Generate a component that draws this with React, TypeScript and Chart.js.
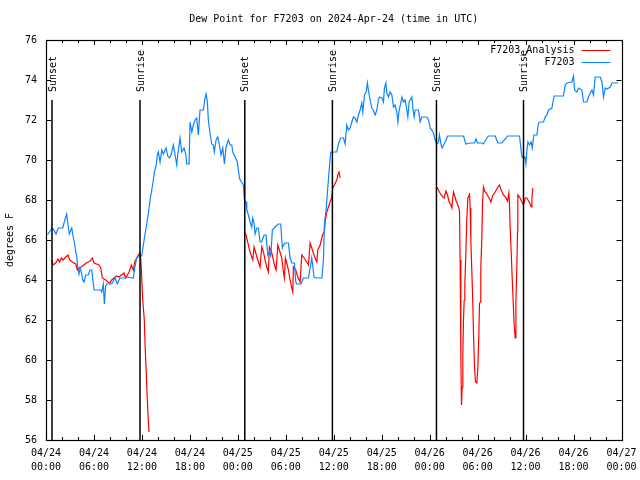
import React, { useEffect, useRef } from 'react';
import { Chart, registerables } from 'chart.js';

Chart.register(...registerables);

const FONT = '"DejaVu Sans Mono", "Liberation Mono", monospace';

const TITLE = 'Dew Point for F7203 on 2024-Apr-24 (time in UTC)';
const Y_LABEL = 'degrees F';
const SERIES_NAMES = ['F7203_Analysis', 'F7203'];
const SERIES_COLORS = ['#ff0000', '#0a84ff'];

// x axis: hours since 2024-04-24 00:00 UTC
const X_TICK_HOURS = [0, 6, 12, 18, 24, 30, 36, 42, 48, 54, 60, 66, 72];
const X_TICK_DATES = ['04/24', '04/24', '04/24', '04/24', '04/25', '04/25', '04/25', '04/25', '04/26', '04/26', '04/26', '04/26', '04/27'];
const X_TICK_TIMES = ['00:00', '06:00', '12:00', '18:00', '00:00', '06:00', '12:00', '18:00', '00:00', '06:00', '12:00', '18:00', '00:00'];
const Y_TICKS = [56, 58, 60, 62, 64, 66, 68, 70, 72, 74, 76];

const SUN_EVENT_HOURS = [0.75, 11.76, 24.87, 35.83, 48.85, 59.74];
const SUN_EVENT_NAMES = ['Sunset', 'Sunrise', 'Sunset', 'Sunrise', 'Sunset', 'Sunrise'];
const SUN_LINE_TOP = 73;

// [hour, dew point °F]
const F7203_READINGS: [number, number][] = [
  [0.1, 66.3], [0.25, 66.3], [0.79, 66.6], [1.0, 66.5], [1.25, 66.3], [1.54, 66.6], [2.09, 66.6], [2.29, 66.9], [2.59, 67.3], [2.79, 66.65],
  [2.92, 66.3], [3.22, 66.6], [3.34, 66.3], [3.54, 65.9], [3.72, 65.4], [3.84, 65.2], [3.97, 64.6], [4.13, 64.3], [4.26, 64.6], [4.47, 64.3],
  [4.59, 64.0], [4.76, 63.9], [4.97, 64.25], [5.29, 64.25], [5.51, 64.5], [5.72, 64.5], [5.84, 64.1], [6.01, 63.5], [6.85, 63.5], [6.97, 63.4],
  [7.17, 63.8], [7.30, 62.8], [7.47, 63.7], [7.60, 63.8], [8.22, 63.8], [8.64, 64.1], [8.92, 63.8], [9.26, 64.1], [9.89, 64.1], [10.18, 64.15],
  [10.93, 64.1], [11.14, 64.7], [11.35, 65.1], [11.68, 65.25], [11.98, 65.2], [12.18, 65.75], [12.39, 66.3], [12.60, 66.8], [12.80, 67.3], [13.02, 68.0],
  [13.23, 68.5], [13.43, 69.0], [13.55, 69.4], [13.77, 69.7], [13.93, 70.25], [14.06, 70.4], [14.27, 69.9], [14.48, 70.5], [14.68, 70.3], [15.02, 70.6],
  [15.23, 70.2], [15.43, 70.1], [15.64, 70.25], [15.93, 70.75], [16.15, 70.25], [16.36, 69.75], [16.48, 70.25], [16.77, 71.1], [16.98, 70.4], [17.27, 70.6],
  [17.48, 70.3], [17.61, 69.8], [17.90, 69.8], [18.02, 71.9], [18.24, 71.4], [18.44, 71.75], [18.65, 72.0], [18.86, 72.1], [19.06, 71.25], [19.27, 72.5],
  [19.69, 72.5], [19.90, 73.1], [20.03, 73.3], [20.19, 72.9], [20.31, 72.0], [20.53, 71.3], [20.74, 70.8], [20.94, 70.75], [21.06, 70.4], [21.28, 71.0],
  [21.49, 71.15], [21.69, 70.75], [21.90, 70.25], [22.12, 70.6], [22.32, 69.8], [22.53, 70.65], [22.82, 71.0], [23.03, 70.75], [23.24, 70.75], [23.37, 70.4],
  [23.65, 70.15], [23.94, 69.9], [24.16, 69.2], [24.28, 69.0], [24.49, 68.9], [24.69, 68.75], [24.82, 68.0], [25.03, 67.9], [25.12, 67.5], [25.32, 67.25],
  [25.53, 66.9], [25.74, 66.65], [25.87, 67.1], [26.03, 66.85], [26.16, 66.3], [26.37, 66.6], [26.57, 66.6], [26.78, 65.9], [26.99, 65.9], [27.28, 66.25],
  [27.53, 66.25], [27.75, 65.25], [27.95, 65.4], [28.12, 65.2], [28.32, 66.5], [28.66, 66.65], [29.07, 66.8], [29.37, 66.8], [29.57, 65.6], [29.70, 65.75],
  [29.91, 65.85], [30.33, 65.85], [30.54, 65.1], [30.75, 64.85], [31.08, 64.85], [31.25, 63.9], [31.38, 63.8], [31.91, 63.8], [32.20, 64.1], [32.83, 64.1],
  [33.25, 65.1], [33.54, 64.15], [33.79, 64.1], [34.51, 64.1], [34.71, 65.0], [34.83, 66.8], [35.04, 67.5], [35.21, 68.4], [35.33, 69.0], [35.46, 69.65],
  [35.63, 70.4], [36.38, 70.4], [36.58, 70.8], [36.88, 71.1], [37.21, 71.1], [37.42, 70.8], [37.63, 71.75], [37.83, 71.5], [38.05, 71.6], [38.26, 71.9],
  [38.46, 72.15], [38.67, 72.1], [38.89, 71.9], [39.09, 72.25], [39.30, 72.5], [39.51, 72.85], [39.64, 72.4], [39.84, 73.25], [40.05, 73.4], [40.21, 73.85],
  [40.39, 73.35], [40.55, 73.0], [40.76, 72.6], [40.96, 72.5], [41.18, 72.25], [41.39, 72.5], [41.59, 73.0], [41.71, 73.15], [42.02, 73.1], [42.22, 72.9],
  [42.34, 73.6], [42.52, 73.85], [42.64, 73.35], [42.84, 73.15], [43.05, 73.4], [43.27, 73.25], [43.47, 72.65], [43.68, 72.75], [43.89, 72.4], [44.02, 71.9],
  [44.18, 72.5], [44.39, 72.85], [44.52, 73.15], [44.72, 72.9], [44.93, 73.0], [45.14, 72.5], [45.27, 72.15], [45.43, 72.9], [45.77, 73.15], [45.89, 72.6],
  [46.06, 72.15], [46.18, 72.5], [46.60, 72.5], [46.81, 71.9], [47.02, 72.15], [47.65, 72.15], [47.85, 72.0], [48.06, 71.6], [48.27, 71.5], [48.47, 71.35],
  [48.69, 71.0], [48.90, 70.8], [49.10, 70.9], [49.22, 71.25], [49.44, 70.75], [49.56, 70.6], [49.81, 70.8], [50.06, 71.0], [50.23, 71.2], [52.23, 71.2],
  [52.53, 70.8], [53.07, 70.85], [53.60, 70.85], [53.82, 71.05], [53.98, 70.85], [54.53, 70.85], [54.73, 70.8], [55.16, 71.1], [55.36, 71.2], [56.20, 71.2],
  [56.53, 70.85], [57.03, 70.85], [57.57, 71.1], [57.73, 71.2], [59.24, 71.2], [59.41, 70.6], [59.54, 70.15], [59.74, 70.1], [59.91, 70.15], [60.04, 69.8],
  [60.16, 70.5], [60.29, 70.9], [60.49, 70.75], [60.70, 70.9], [60.83, 70.6], [61.04, 71.25], [61.41, 71.25], [61.61, 71.85], [61.83, 71.9], [62.24, 71.9],
  [62.45, 72.15], [62.67, 72.25], [62.87, 72.5], [63.29, 72.6], [63.58, 73.2], [64.74, 73.2], [64.96, 73.75], [65.17, 73.85], [65.79, 73.9], [66.0, 74.2],
  [66.12, 73.5], [66.42, 73.4], [66.62, 73.6], [67.05, 73.5], [67.25, 72.9], [67.67, 72.9], [67.87, 73.15], [68.09, 73.35], [68.30, 73.5], [68.50, 73.25],
  [68.71, 74.15], [69.34, 74.15], [69.55, 73.9], [69.75, 73.15], [69.96, 73.6], [70.18, 73.55], [70.59, 73.65], [70.80, 73.85], [71.63, 73.85],
];

// [hour, dew point °F]; null marks a gap in the analysis
const ANALYSIS_READINGS: [number, number | null][] = [
  [0.75, 65.0], [0.88, 64.75], [1.21, 64.85], [1.50, 65.05], [1.71, 64.9], [1.91, 65.1], [2.13, 65.0], [2.47, 65.15], [2.75, 65.25], [2.97, 65.0],
  [3.29, 64.9], [3.72, 64.8], [3.92, 64.5], [4.13, 64.6], [4.42, 64.65], [5.04, 64.85], [5.51, 64.95], [5.79, 65.1], [6.01, 64.85], [6.63, 64.75],
  [6.85, 64.6], [7.05, 64.1], [7.47, 64.0], [7.76, 63.9], [8.01, 63.85], [8.22, 64.0], [8.51, 64.1], [8.85, 64.2], [9.14, 64.15], [9.42, 64.25],
  [9.76, 64.35], [9.97, 64.1], [10.18, 64.25], [10.39, 64.4], [10.68, 64.75], [10.93, 64.5], [11.10, 64.9], [11.35, 65.1], [11.55, 65.25], [11.73, 65.35],
  [11.85, 65.1], [11.93, 64.5], [12.10, 63.0], [12.30, 62.0], [12.39, 60.8], [12.52, 59.6], [12.64, 58.35], [12.77, 57.2], [12.89, 56.4],
  [18.0, null],
  [24.78, 66.4], [25.03, 66.25], [25.32, 65.75], [25.53, 65.4], [25.74, 65.15], [25.87, 65.0], [26.03, 65.65], [26.28, 65.3], [26.57, 64.9], [26.78, 64.65],
  [26.99, 65.65], [27.20, 65.4], [27.41, 65.0], [27.62, 64.65], [27.82, 64.4], [27.95, 65.65], [28.12, 65.5], [28.32, 65.25], [28.57, 64.75], [28.79, 64.5],
  [29.0, 65.75], [29.20, 65.5], [29.50, 65.1], [29.70, 64.4], [29.82, 64.1], [29.95, 65.1], [30.12, 64.85], [30.33, 64.5], [30.54, 64.0], [30.75, 63.6],
  [30.88, 63.4], [30.95, 64.65], [31.25, 64.5], [31.50, 64.15], [31.79, 63.9], [32.0, 65.25], [32.29, 65.1], [32.63, 64.9], [32.83, 64.75], [33.04, 65.85],
  [33.25, 65.6], [33.45, 65.35], [33.67, 65.1], [33.88, 64.9], [34.0, 65.5], [34.29, 65.75], [34.63, 66.3], [34.83, 66.4], [34.92, 66.9], [35.13, 67.4],
  [35.33, 67.65], [35.54, 67.9], [35.76, 68.15], [35.88, 68.6], [36.08, 68.75], [36.38, 69.0], [36.51, 69.25], [36.67, 69.4], [36.80, 69.1],
  [42.0, null],
  [48.81, 68.55], [48.97, 68.6], [49.22, 68.4], [49.44, 68.25], [49.65, 68.15], [49.81, 68.1], [50.03, 68.45], [50.23, 68.25], [50.44, 67.9], [50.65, 67.75],
  [50.78, 67.6], [50.90, 68.15], [50.98, 68.4], [51.10, 68.25], [51.31, 67.95], [51.48, 67.8], [51.73, 67.5], [51.81, 65.0], [51.90, 60.15], [51.98, 57.75],
  [52.07, 58.65], [52.15, 60.3], [52.23, 62.0], [52.32, 63.0], [52.40, 63.75], [52.53, 65.4], [52.65, 67.1], [52.78, 68.1], [52.94, 68.25], [52.98, 68.35],
  [53.07, 67.6], [53.15, 66.0], [53.28, 64.4], [53.40, 62.8], [53.48, 61.35], [53.60, 59.75], [53.73, 58.9], [53.90, 58.85], [54.03, 59.6], [54.15, 61.25],
  [54.23, 62.8], [54.32, 62.9], [54.40, 64.6], [54.53, 66.15], [54.61, 67.85], [54.73, 68.65], [54.86, 68.45], [55.07, 68.35], [55.36, 68.15], [55.66, 67.9],
  [55.86, 68.2], [56.20, 68.4], [56.53, 68.65], [56.73, 68.75], [56.95, 68.5], [57.23, 68.25], [57.57, 68.1], [57.73, 67.95], [57.91, 68.35], [57.98, 67.85],
  [58.07, 66.6], [58.20, 65.4], [58.32, 64.15], [58.45, 62.9], [58.57, 61.75], [58.70, 61.1], [58.79, 62.9], [58.91, 64.75], [58.99, 66.4], [59.03, 68.25],
  [59.24, 68.15], [59.54, 67.9], [59.74, 67.75], [59.95, 68.1], [60.16, 68.1], [60.45, 67.9], [60.70, 67.65], [60.79, 68.1], [60.91, 68.6],
];

const X_MIN = 0;
const X_MAX = 72;
const Y_MIN = 56;
const Y_MAX = 76;

const framePlugin = {
  id: 'gnuplotFrame',
  afterDatasetsDraw(chart: any) {
    const { ctx, chartArea, scales } = chart;
    const xs = scales.x;
    const ys = scales.y;
    const { left, right, top, bottom } = chartArea;
    ctx.save();
    ctx.strokeStyle = '#000';
    ctx.fillStyle = '#000';

    // sunrise / sunset markers
    ctx.lineWidth = 1.5;
    SUN_EVENT_HOURS.forEach((h, i) => {
      const x = xs.getPixelForValue(h);
      const yTop = ys.getPixelForValue(SUN_LINE_TOP);
      ctx.beginPath();
      ctx.moveTo(x, yTop);
      ctx.lineTo(x, bottom);
      ctx.stroke();
      ctx.save();
      ctx.translate(x + 1, yTop - 8);
      ctx.rotate(-Math.PI / 2);
      ctx.font = `10px ${FONT}`;
      ctx.textAlign = 'left';
      ctx.textBaseline = 'middle';
      ctx.fillText(SUN_EVENT_NAMES[i], 0, 0);
      ctx.restore();
    });

    // frame
    ctx.lineWidth = 1.2;
    ctx.strokeRect(Math.round(left) + 0.5, Math.round(top) + 0.5, Math.round(right - left), Math.round(bottom - top));

    // inward ticks
    ctx.lineWidth = 1;
    ctx.beginPath();
    for (let h = X_MIN; h <= X_MAX; h += 2) {
      const x = Math.round(xs.getPixelForValue(h)) + 0.5;
      const len = h % 6 === 0 ? 5 : 3;
      ctx.moveTo(x, bottom);
      ctx.lineTo(x, bottom - len);
      ctx.moveTo(x, top);
      ctx.lineTo(x, top + len);
    }
    Y_TICKS.forEach((v) => {
      const y = Math.round(ys.getPixelForValue(v)) + 0.5;
      ctx.moveTo(left, y);
      ctx.lineTo(left + 5, y);
      ctx.moveTo(right, y);
      ctx.lineTo(right - 5, y);
    });
    ctx.stroke();

    // title
    ctx.font = `10px ${FONT}`;
    ctx.textAlign = 'center';
    ctx.textBaseline = 'middle';
    ctx.fillText(TITLE, (left + right) / 2, 19);

    // legend
    ctx.textAlign = 'right';
    SERIES_NAMES.forEach((name, i) => {
      const y = top + 10 + i * 12;
      ctx.fillStyle = '#000';
      ctx.fillText(name, right - 47, y);
      ctx.strokeStyle = SERIES_COLORS[i];
      ctx.beginPath();
      ctx.moveTo(right - 40, Math.round(y) + 0.5);
      ctx.lineTo(right - 11, Math.round(y) + 0.5);
      ctx.stroke();
    });
    ctx.restore();
  },
};

export default function App() {
  const canvasRef = useRef<HTMLCanvasElement | null>(null);

  useEffect(() => {
    const canvas = canvasRef.current;
    if (!canvas) return;
    const chart = new Chart(canvas, {
      type: 'line',
      data: {
        datasets: [
          {
            label: SERIES_NAMES[1],
            data: F7203_READINGS.map(([x, y]) => ({ x, y })),
            borderColor: SERIES_COLORS[1],
            borderWidth: 1.2,
            pointRadius: 0,
            tension: 0,
            fill: false,
          },
          {
            label: SERIES_NAMES[0],
            data: ANALYSIS_READINGS.map(([x, y]) => ({ x, y })),
            borderColor: SERIES_COLORS[0],
            borderWidth: 1.2,
            pointRadius: 0,
            tension: 0,
            fill: false,
            spanGaps: false,
          },
        ],
      },
      options: {
        responsive: false,
        animation: false,
        events: [],
        layout: { padding: { top: 40, right: 18.5, left: 0, bottom: 0 } },
        plugins: {
          legend: { display: false },
          title: { display: false },
          tooltip: { enabled: false },
        },
        scales: {
          x: {
            type: 'linear',
            min: X_MIN,
            max: X_MAX,
            grid: { display: false, drawTicks: false },
            border: { display: false },
            afterBuildTicks: (scale: any) => {
              scale.ticks = X_TICK_HOURS.map((value) => ({ value }));
            },
            afterFit: (scale: any) => {
              scale.height = 40;
              scale.paddingLeft = 0;
              scale.paddingRight = 0;
            },
            ticks: {
              autoSkip: false,
              maxRotation: 0,
              minRotation: 0,
              padding: 6,
              color: '#000',
              font: { family: FONT, size: 10, lineHeight: 1.4 },
              callback: (value: any) => {
                const i = X_TICK_HOURS.indexOf(Number(value));
                return i >= 0 ? [X_TICK_DATES[i], X_TICK_TIMES[i]] : '';
              },
            },
          },
          y: {
            type: 'linear',
            min: Y_MIN,
            max: Y_MAX,
            grid: { display: false, drawTicks: false },
            border: { display: false },
            afterBuildTicks: (scale: any) => {
              scale.ticks = Y_TICKS.map((value) => ({ value }));
            },
            afterFit: (scale: any) => {
              scale.width = 46;
              scale.paddingTop = 0;
              scale.paddingBottom = 0;
            },
            ticks: {
              padding: 9,
              color: '#000',
              font: { family: FONT, size: 10 },
              callback: (value: any) => String(value),
            },
            title: {
              display: true,
              text: Y_LABEL,
              color: '#000',
              font: { family: FONT, size: 10 },
              padding: { top: 4, bottom: 4 },
            },
          },
        },
      },
      plugins: [framePlugin],
    } as any);
    return () => chart.destroy();
  }, []);

  return (
    <div style={{ position: 'fixed', left: 0, top: 0, width: 640, height: 480, background: '#fff' }}>
      <canvas ref={canvasRef} width={640} height={480} style={{ display: 'block' }} />
    </div>
  );
}
